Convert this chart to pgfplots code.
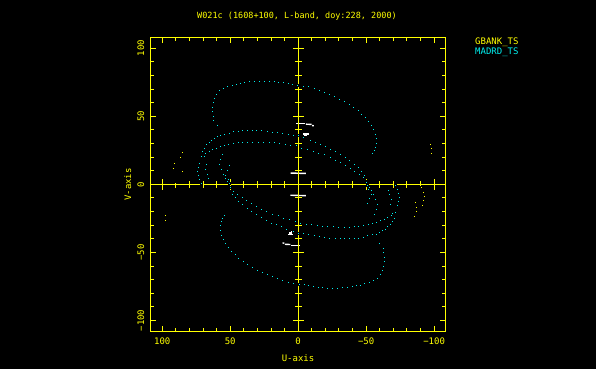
\documentclass[border=0pt]{standalone}
\usepackage{pgfplots}
\pgfplotsset{compat=1.18}
\usepackage{pgfplotstable}
\usepackage{fontspec}
\setmainfont{DejaVu Sans Mono}
\definecolor{pgyellow}{RGB}{255,255,0}
\definecolor{pgcyan}{RGB}{0,240,240}

% MADRD_TS, upper half (V>0)
\pgfplotstableread{
u v
59.3 43.1
62.2 46.8
62.7 49.8
63.4 53.4
63.2 56.6
62.7 60.0
61.5 63.2
60.2 66.2
57.8 68.9
54.9 70.6
52.0 71.8
48.8 72.8
45.6 73.8
42.7 74.3
39.5 75.0
35.9 75.5
32.2 75.7
28.5 76.0
25.1 76.0
21.5 76.0
17.8 75.7
14.4 75.2
11.0 74.8
7.6 74.0
4.1 73.5
0.7 73.0
-3.7 72.3
-7.4 71.8
-11.5 70.5
-15.5 69.1
-19.0 67.7
-22.9 66.2
-26.5 64.5
-30.3 62.7
-33.7 60.8
-37.7 59.0
-40.6 56.6
-43.8 54.2
-46.5 51.5
-49.3 49.0
-51.2 46.1
-53.4 43.1
-55.0 40.2
-56.6 37.0
-57.4 33.8
-57.4 30.1
-56.5 27.0
-55.7 25.2
-54.4 22.8
71.2 20.5
70.6 24.5
69.1 26.9
67.4 29.4
65.7 31.1
63.7 32.6
61.5 34.0
59.5 35.5
57.1 36.3
54.1 36.7
50.9 37.7
47.7 38.7
44.1 39.2
40.9 39.7
37.5 39.7
33.8 39.7
30.6 39.7
26.9 39.4
22.8 39.2
18.8 38.5
15.4 38.2
11.5 37.5
7.3 36.7
3.6 36.0
0.0 35.8
-3.7 34.6
-8.8 32.6
-12.5 31.1
-16.4 29.6
-20.1 28.2
-23.8 26.0
-27.5 24.0
-31.2 22.1
-34.5 19.8
-37.8 17.4
-41.0 14.9
-44.3 12.3
-46.5 9.5
-48.5 6.9
-50.5 2.0
69.5 21.0
68.6 22.8
65.7 24.0
63.0 25.7
60.5 26.5
57.6 27.7
54.6 28.4
51.4 29.4
47.8 30.1
44.1 30.6
40.9 31.1
37.5 31.3
33.5 31.3
29.4 31.3
25.7 31.1
21.5 30.9
17.9 30.6
14.0 30.1
9.8 29.6
5.6 29.1
1.7 28.4
-2.2 26.9
-6.4 25.7
-11.0 24.5
-15.0 22.8
-19.4 21.8
-23.6 19.8
-27.2 17.9
-30.9 16.2
-34.6 14.2
-38.3 11.7
-41.5 9.5
-44.6 7.3
-47.6 5.1
-50.0 1.9
73.0 15.4
73.8 12.5
74.0 9.5
73.5 6.5
72.5 3.5
71.0 0.8
68.0 14.5
68.6 11.0
66.9 7.6
66.5 4.2
55.9 22.0
57.3 18.4
57.8 14.7
56.8 11.0
55.4 7.6
53.7 4.4
52.4 2.0
50.7 14.2
52.4 10.5
53.7 6.9
51.5 3.5
50.5 0.5
}\cyanup

% MADRD_TS, lower half (conjugate points)
\pgfplotstableread{
u v
-59.3 -43.1
-62.2 -46.8
-62.7 -49.8
-63.4 -53.4
-63.2 -56.6
-62.7 -60.0
-61.5 -63.2
-60.2 -66.2
-57.8 -68.9
-54.9 -70.6
-52.0 -71.8
-48.8 -72.8
-45.6 -73.8
-42.7 -74.3
-39.5 -75.0
-35.9 -75.5
-32.2 -75.7
-28.5 -76.0
-25.1 -76.0
-21.5 -76.0
-17.8 -75.7
-14.4 -75.2
-11.0 -74.8
-7.6 -74.0
-4.1 -73.5
-0.7 -73.0
3.7 -72.3
7.4 -71.8
11.5 -70.5
15.5 -69.1
19.0 -67.7
22.9 -66.2
26.5 -64.5
30.3 -62.7
33.7 -60.8
37.7 -59.0
40.6 -56.6
43.8 -54.2
46.5 -51.5
49.3 -49.0
51.2 -46.1
53.4 -43.1
55.0 -40.2
56.6 -37.0
57.4 -33.8
57.4 -30.1
56.5 -27.0
55.7 -25.2
54.4 -22.8
-71.2 -20.5
-70.6 -24.5
-69.1 -26.9
-67.4 -29.4
-65.7 -31.1
-63.7 -32.6
-61.5 -34.0
-59.5 -35.5
-57.1 -36.3
-54.1 -36.7
-50.9 -37.7
-47.7 -38.7
-44.1 -39.2
-40.9 -39.7
-37.5 -39.7
-33.8 -39.7
-30.6 -39.7
-26.9 -39.4
-22.8 -39.2
-18.8 -38.5
-15.4 -38.2
-11.5 -37.5
-7.3 -36.7
-3.6 -36.0
0.0 -35.8
3.7 -34.6
8.8 -32.6
12.5 -31.1
16.4 -29.6
20.1 -28.2
23.8 -26.0
27.5 -24.0
31.2 -22.1
34.5 -19.8
37.8 -17.4
41.0 -14.9
44.3 -12.3
46.5 -9.5
48.5 -6.9
50.5 -2.0
-69.5 -21.0
-68.6 -22.8
-65.7 -24.0
-63.0 -25.7
-60.5 -26.5
-57.6 -27.7
-54.6 -28.4
-51.4 -29.4
-47.8 -30.1
-44.1 -30.6
-40.9 -31.1
-37.5 -31.3
-33.5 -31.3
-29.4 -31.3
-25.7 -31.1
-21.5 -30.9
-17.9 -30.6
-14.0 -30.1
-9.8 -29.6
-5.6 -29.1
-1.7 -28.4
2.2 -26.9
6.4 -25.7
11.0 -24.5
15.0 -22.8
19.4 -21.8
23.6 -19.8
27.2 -17.9
30.9 -16.2
34.6 -14.2
38.3 -11.7
41.5 -9.5
44.6 -7.3
47.6 -5.1
50.0 -1.9
-73.0 -15.4
-73.8 -12.5
-74.0 -9.5
-73.5 -6.5
-72.5 -3.5
-71.0 -0.8
-68.0 -14.5
-68.6 -11.0
-66.9 -7.6
-66.5 -4.2
-55.9 -22.0
-57.3 -18.4
-57.8 -14.7
-56.8 -11.0
-55.4 -7.6
-53.7 -4.4
-52.4 -2.0
-50.7 -14.2
-52.4 -10.5
-53.7 -6.9
-51.5 -3.5
-50.5 -0.5
}\cyanlo

% GBANK_TS
\pgfplotstableread{
u v
85.4 23.5
86.6 19.9
86.6 16.7
86.1 13.0
85.4 9.8
91.5 15.4
92.0 11.8
92.7 8.6
92.0 5.6
90.7 2.0
-97.3 29.7
-98.0 26.5
-97.8 22.8
-96.8 19.6
-85.4 -23.5
-86.6 -19.9
-86.6 -16.7
-86.1 -13.0
-85.4 -9.8
-91.5 -15.4
-92.0 -11.8
-92.7 -8.6
-92.0 -5.6
-90.7 -2.0
97.3 -29.7
98.0 -26.5
97.8 -22.8
96.8 -19.6
}\ybank

\begin{document}
\begin{tikzpicture}[x=1pt,y=1pt]
\fill[black] (0,0) rectangle (596,369);
\useasboundingbox (0,0) rectangle (596,369);
\begin{axis}[
  at={(150.7pt,38pt)}, anchor=south west,
  scale only axis, width=295pt, height=293.3pt,
  xmin=-108.5, xmax=108.5, ymin=-107.7, ymax=107.7,
  x dir=reverse,
  axis line style={pgyellow, line width=1pt},
  xtick={-100,-50,0,50,100},
  ytick={-100,-50,0,50,100},
  xticklabels={−100,−50,0,50,100},
  yticklabels={−100,−50,0,50,100},
  minor tick num=4,
  tick align=inside,
  major tick length=5.3pt,
  minor tick length=3.3pt,
  every tick/.style={pgyellow, line width=1pt},
  ticklabel style={text=pgyellow, font=\fontsize{9}{10}\selectfont},
  xticklabel style={yshift=-3pt},
  yticklabel style={rotate=90, anchor=south, yshift=3pt},
  clip=false,
]
\addplot[only marks, mark=square*, mark size=1.0pt, mark options={draw=none, fill=pgcyan}] table[x=u,y=v] {\cyanup};
\addplot[only marks, mark=square*, mark size=1.0pt, mark options={draw=none, fill=pgcyan}] table[x=u,y=v] {\cyanlo};
\addplot[only marks, mark=square*, mark size=0.9pt, mark options={draw=none, fill=pgyellow}] table[x=u,y=v] {\ybank};
% white short tracks
\addplot[white, line width=1.4pt] coordinates {(1.5,44.8) (-5.0,44.8)};
\addplot[white, line width=1.4pt] coordinates {(-5.7,44.2) (-9.8,44.0)};
\addplot[white, line width=1.4pt] coordinates {(-10.2,43.2) (-11.5,43.0)};
\addplot[white, line width=1.4pt] coordinates {(-3.7,36.9) (-7.6,36.9)};
\addplot[white, line width=1.4pt] coordinates {(-4.4,35.8) (-6.6,35.8)};
\addplot[white, line width=1.4pt] coordinates {(-4.0,34.6) (-5.0,34.6)};
\addplot[white, line width=1.4pt] coordinates {(5.6,8.3) (-5.7,8.0)};
\addplot[white, line width=1.4pt] coordinates {(-1.5,-44.8) (5.0,-44.8)};
\addplot[white, line width=1.4pt] coordinates {(5.7,-44.2) (9.8,-44.0)};
\addplot[white, line width=1.4pt] coordinates {(10.2,-43.2) (11.5,-43.0)};
\addplot[white, line width=1.4pt] coordinates {(3.7,-36.9) (7.6,-36.9)};
\addplot[white, line width=1.4pt] coordinates {(4.4,-35.8) (6.6,-35.8)};
\addplot[white, line width=1.4pt] coordinates {(4.0,-34.6) (5.0,-34.6)};
\addplot[white, line width=1.4pt] coordinates {(-5.6,-8.3) (5.7,-8.0)};
% centre cross with ticks
\draw[pgyellow, line width=1pt] (axis cs:108.5,0) -- (axis cs:-108.5,0);
\draw[pgyellow, line width=1pt] (axis cs:0,-107.7) -- (axis cs:0,107.7);
\pgfplotsinvokeforeach{-100,-50,50,100}{
  \draw[pgyellow, line width=1pt] (axis cs:#1,0) ++(0pt,-5.3pt) -- ++(0pt,10.6pt);
  \draw[pgyellow, line width=1pt] (axis cs:0,#1) ++(-5.3pt,0pt) -- ++(10.6pt,0pt);
}
\pgfplotsinvokeforeach{-90,-80,-70,-60,-40,-30,-20,-10,10,20,30,40,60,70,80,90}{
  \draw[pgyellow, line width=1pt] (axis cs:#1,0) ++(0pt,-3.3pt) -- ++(0pt,6.6pt);
  \draw[pgyellow, line width=1pt] (axis cs:0,#1) ++(-3.3pt,0pt) -- ++(6.6pt,0pt);
}
\end{axis}
\node[text=pgyellow, font=\fontsize{8.5}{10}\selectfont] at (297,353) {W021c (1608+100, L-band, doy:228, 2000)};
\node[text=pgyellow, font=\fontsize{9}{10}\selectfont] at (298,11) {U-axis};
\node[text=pgyellow, font=\fontsize{9}{10}\selectfont, rotate=90] at (127.7,184.5) {V-axis};
\node[text=pgyellow, font=\fontsize{9}{10}\selectfont, anchor=west, inner sep=0pt] at (475,326.7) {GBANK\_TS};
\node[text=pgcyan, font=\fontsize{9}{10}\selectfont, anchor=west, inner sep=0pt] at (475,316.3) {MADRD\_TS};
\end{tikzpicture}
\end{document}
